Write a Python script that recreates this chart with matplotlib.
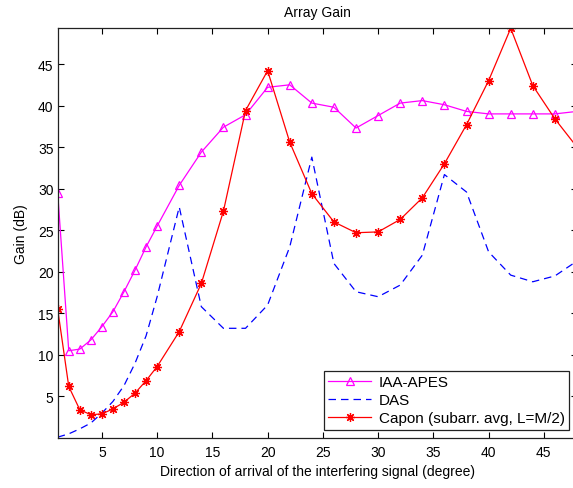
import matplotlib
matplotlib.use("Agg")
import matplotlib.pyplot as plt

plt.rcParams['font.family'] = ['Liberation Sans', 'DejaVu Sans']

doa = [1, 2, 3, 4, 5, 6, 7, 8, 9, 10, 12, 14, 16, 18, 20, 22, 24, 26, 28, 30,
       32, 34, 36, 38, 40, 42, 44, 46, 48]

iaa_apes = [29.5, 10.5, 10.7, 11.8, 13.4, 15.2, 17.6, 20.2, 23.0, 25.5, 30.4,
            34.4, 37.4, 38.9, 42.2, 42.5, 40.3, 39.8, 37.3, 38.8,
            40.3, 40.6, 40.1, 39.3, 39.0, 39.0, 39.0, 39.0, 39.3]

das = [0.1, 0.5, 1.1, 1.8, 3.0, 4.4, 6.3, 9.0, 12.3, 17.0, 27.8,
       15.8, 13.2, 13.2, 16.0, 23.0, 33.8, 21.0, 17.6, 17.0,
       18.4, 22.0, 31.7, 29.6, 22.4, 19.6, 18.8, 19.5, 21.3]

capon = [15.5, 6.2, 3.4, 2.8, 2.9, 3.5, 4.3, 5.4, 6.9, 8.6, 12.8,
         18.6, 27.3, 39.4, 44.2, 35.6, 29.4, 26.0, 24.7, 24.8,
         26.3, 28.9, 33.0, 37.7, 43.0, 49.3, 42.4, 38.4, 35.0]

labels = ['IAA-APES', 'DAS', 'Capon (subarr. avg, L=M/2)']
xticks = [5, 10, 15, 20, 25, 30, 35, 40, 45]
yticks = [5, 10, 15, 20, 25, 30, 35, 40, 45]

fig = plt.figure(figsize=(5.73, 4.89), dpi=100)
ax = fig.add_axes([57.7 / 573, 50 / 489, (577 - 57.7) / 573, (459.7 - 50) / 489])

ax.plot(doa, iaa_apes, color='#ff00ff', lw=0.9, marker='^', ms=5.5,
        mfc='none', mec='#ff00ff', mew=0.9, label=labels[0])
ax.plot(doa, das, color='#0000ff', lw=0.9, ls=(0, (6, 4)), label=labels[1])
ax.plot(doa, capon, color='#ff0000', lw=0.9, marker=(8, 2, 0), ms=6.5,
        mfc='#ff0000', mec='#ff0000', mew=0.9, label=labels[2])

ax.set_xlim(1, 48)
ax.set_ylim(0, 49.3)
ax.set_xticks(xticks)
ax.set_yticks(yticks)
ax.tick_params(direction='in', top=True, right=True, length=4.5,
               labelsize=10, width=0.8)
ax.tick_params(axis='x', pad=5)
ax.tick_params(axis='y', pad=3)
for s in ax.spines.values():
    s.set_linewidth(0.9)
    s.set_color('#222222')

ax.set_title('Array Gain', fontsize=10, pad=9)
ax.set_xlabel('Direction of arrival of the interfering signal (degree)', fontsize=10, labelpad=4)
ax.set_ylabel('Gain (dB)', fontsize=10, labelpad=7)

axw = 577 - 57.7
axh = 459.7 - 50
leg = ax.legend(loc='lower right',
                bbox_to_anchor=((569.3 - 57.7) / axw, (439 - 430.7) / axh),
                fontsize=11, numpoints=1, handlelength=2.8, borderpad=0.3,
                labelspacing=0.25, handletextpad=0.5, borderaxespad=0,
                fancybox=False, framealpha=1, edgecolor='#222222')
leg.get_frame().set_linewidth(0.9)

fig.savefig('out.png', dpi=100)
